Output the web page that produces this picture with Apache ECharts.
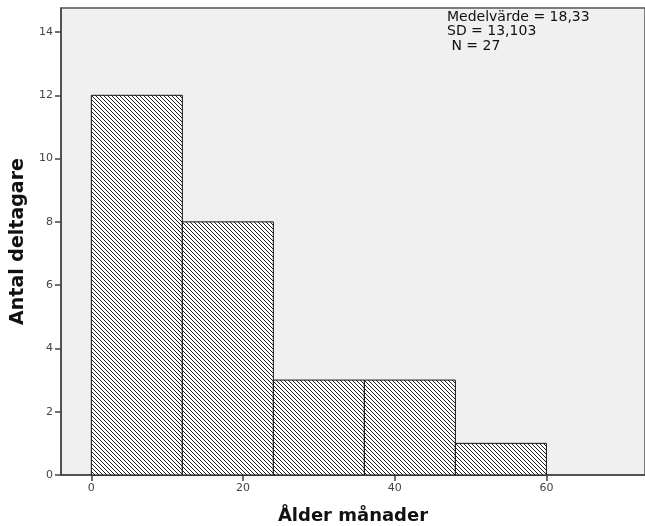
<!DOCTYPE html>
<html>
<head>
<meta charset="utf-8">
<script src="https://cdn.jsdelivr.net/npm/echarts@6/dist/echarts.min.js"></script>
<style>
  html, body { margin: 0; padding: 0; background: #fff; }
  #chart { width: 645px; height: 526px; }
</style>
</head>
<body>
<div id="chart"></div>
<script>
    // histogram bins (ålder i månader) and counts
    const binStart = [0, 12, 24, 36, 48];
    const binEnd = [12, 24, 36, 48, 60];
    const counts = [12, 8, 3, 3, 1];
    const yTicks = [0, 2, 4, 6, 8, 10, 12, 14];
    const xTicks = [0, 20, 40, 60];
    const statLines = ['Medelvärde = 18,33', 'SD = 13,103', ' N = 27'];

    // diagonal hatch pattern
    function makeHatch() {
        const c = document.createElement('canvas');
        c.width = 4;
        c.height = 4;
        const ctx = c.getContext('2d');
        ctx.fillStyle = '#ffffff';
        ctx.fillRect(0, 0, 4, 4);
        ctx.strokeStyle = '#222';
        ctx.lineWidth = 1;
        ctx.beginPath();
        ctx.moveTo(-4, 0); ctx.lineTo(4, 8);
        ctx.moveTo(0, 0); ctx.lineTo(4, 4);
        ctx.moveTo(0, -4); ctx.lineTo(8, 4);
        ctx.moveTo(-4, -4); ctx.lineTo(4, 4);
        ctx.stroke();
        return c;
    }
    const hatch = makeHatch();

    const chart = echarts.init(document.getElementById('chart'));
    const data = counts.map((v, i) => [binStart[i], binEnd[i], v]);

    const axisColor = '#444';
    const labelStyle = { color: '#444', fontSize: 11, fontFamily: 'DejaVu Sans' };

    let option = {
        animation: false,
        grid: {
            left: 61, top: 8, right: 0, bottom: 51,
            outerBoundsMode: 'none',
            containLabel: false,
            show: true,
            backgroundColor: '#f0f0f0',
            borderColor: '#555',
            borderWidth: 1.5,
        },
        xAxis: {
            type: 'value',
            min: -4,
            max: 73,
            name: 'Ålder månader',
            nameLocation: 'middle',
            nameGap: 32,
            nameTextStyle: { fontSize: 18, fontWeight: 'bold', color: '#111', fontFamily: 'DejaVu Sans' },
            splitLine: { show: false },
            axisLine: { onZero: false, lineStyle: { color: axisColor, width: 1.5 } },
            axisTick: { show: true, length: 6, customValues: xTicks, lineStyle: { color: axisColor, width: 1.5 } },
            axisLabel: { customValues: xTicks, margin: 8, ...labelStyle },
        },
        yAxis: {
            type: 'value',
            min: 0,
            max: 14.76,
            name: 'Antal deltagare',
            nameLocation: 'middle',
            nameGap: 33,
            nameTextStyle: { fontSize: 19, fontWeight: 'bold', color: '#111', fontFamily: 'DejaVu Sans' },
            splitLine: { show: false },
            axisLine: { show: true, onZero: false, lineStyle: { color: axisColor, width: 1.5 } },
            axisTick: { show: true, length: 6, customValues: yTicks, lineStyle: { color: axisColor, width: 1.5 } },
            axisLabel: { customValues: yTicks, margin: 8, ...labelStyle },
        },
        graphic: [{
            type: 'text',
            left: 447,
            top: 10,
            style: {
                text: statLines.join('\n'),
                fontSize: 14,
                lineHeight: 14.5,
                fill: '#111',
                fontFamily: 'DejaVu Sans',
            },
        }],
        series: [{
            type: 'custom',
            data: data,
            encode: { x: [0, 1], y: 2 },
            renderItem: function (params, api) {
                const p0 = api.coord([api.value(0), api.value(2)]);
                const p1 = api.coord([api.value(1), 0]);
                return {
                    type: 'rect',
                    shape: { x: p0[0], y: p0[1], width: p1[0] - p0[0], height: p1[1] - p0[1] },
                    style: {
                        fill: { image: hatch, repeat: 'repeat' },
                        stroke: '#111',
                        lineWidth: 1,
                    },
                };
            },
        }],
    };
    chart.setOption(option);
</script>
</body>
</html>
